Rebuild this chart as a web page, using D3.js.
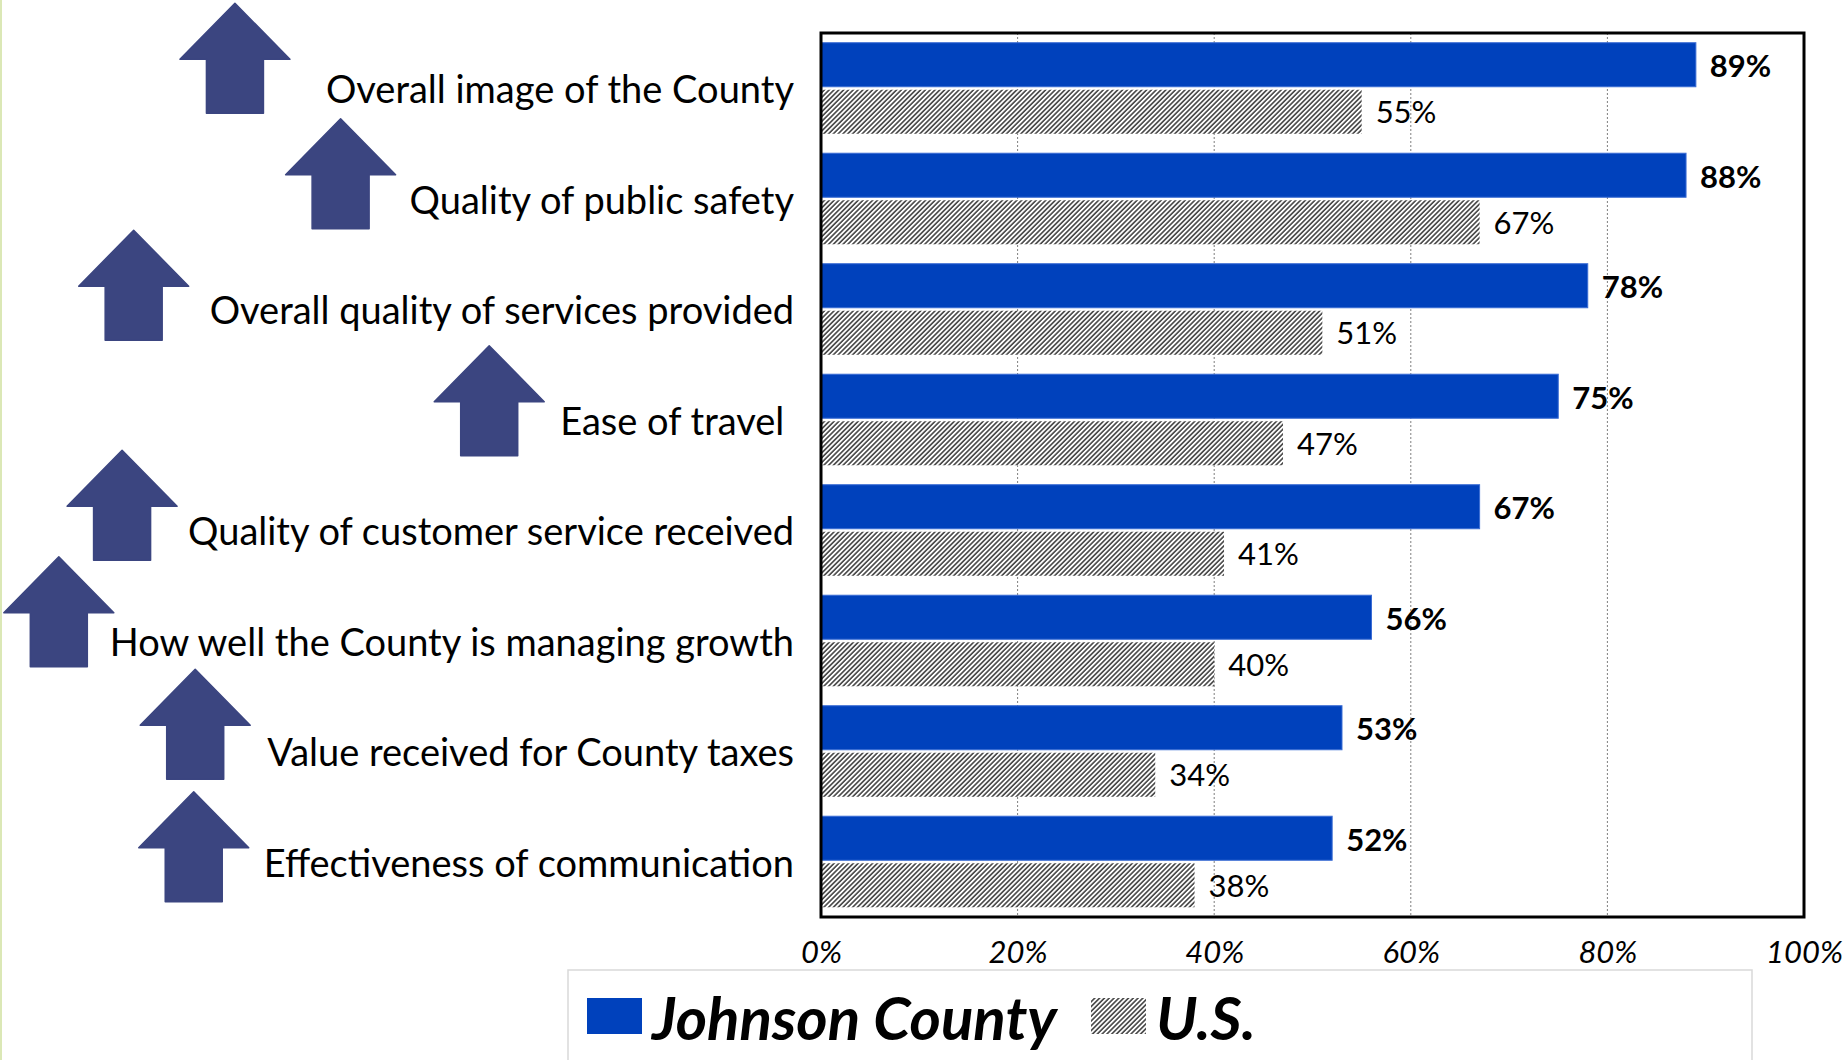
<!DOCTYPE html>
<html>
<head>
<meta charset="utf-8">
<script src="https://cdn.jsdelivr.net/npm/d3@7"></script>
<style>
  body { margin: 0; background: #fff; }
  svg { display: block; }
</style>
</head>
<body>
<svg id="chart" width="1844" height="1060"></svg>
<script>
// Satisfaction ratings, top to bottom
const categories = [
  "Overall image of the County",
  "Quality of public safety",
  "Overall quality of services provided",
  "Ease of travel ",
  "Quality of customer service received",
  "How well the County is managing growth",
  "Value received for County taxes",
  "Effectiveness of communication"
];
const countyValues = [89, 88, 78, 75, 67, 56, 53, 52];
const usValues = [55, 67, 51, 47, 41, 40, 34, 38];
const seriesNames = ["Johnson County", "U.S."];
const tickValues = [0, 20, 40, 60, 80, 100];
const tickLabels = ["0%", "20%", "40%", "60%", "80%", "100%"];

// Layout
const W = 1844, H = 1060;
const plot = { left: 821, right: 1804, top: 33, bottom: 917 };
const FONT = "Lato, 'Open Sans', sans-serif";
const BLUE = "#0041BC";
const ARROW = "#3B4580";
// Up-arrow placement: gap between arrow and the start of its label, and arrow top relative to row centre
const arrowGap = [36, 14, 21, 16, 11, -4, 17, 15];
const arrowRise = [-85, -80, -79, -74, -80, -84, -82, -70];
const arrowSize = { w: 110, h: 110, shaft: 57, head: 56 };

const svg = d3.select("#chart");
svg.append("rect").attr("width", W).attr("height", H).attr("fill", "#fff");
svg.append("line").attr("x1", 1).attr("x2", 1).attr("y1", 0).attr("y2", H)
  .attr("stroke", "#dbe8b6").attr("stroke-width", 2);

const defs = svg.append("defs");
const hatch = defs.append("pattern")
  .attr("id", "hatch")
  .attr("patternUnits", "userSpaceOnUse")
  .attr("width", 3.4).attr("height", 3.4)
  .attr("patternTransform", "rotate(45)");
hatch.append("rect").attr("width", 3.4).attr("height", 3.4).attr("fill", "#fff");
hatch.append("line").attr("x1", 0.9).attr("x2", 0.9).attr("y1", 0).attr("y2", 3.4)
  .attr("stroke", "#444").attr("stroke-width", 1.6);

const rows = categories.map((c, i) => ({ cat: c, values: [countyValues[i], usValues[i]] }));

const x = d3.scaleLinear().domain([0, 100]).range([plot.left, plot.right]);
const y = d3.scaleBand().domain(categories).range([plot.top, plot.bottom])
  .paddingInner(0.176).paddingOuter(0.088);
const ySub = d3.scaleBand().domain(seriesNames).range([0, y.bandwidth()]);

// Gridlines
svg.append("g").selectAll("line")
  .data(tickValues.filter(t => t > 0 && t < 100))
  .join("line")
  .attr("x1", d => x(d)).attr("x2", d => x(d))
  .attr("y1", plot.top).attr("y2", plot.bottom)
  .attr("stroke", "#7f7f7f").attr("stroke-width", 1)
  .attr("stroke-dasharray", "2,2");

// Bars
const groups = svg.append("g").selectAll("g")
  .data(rows).join("g")
  .attr("transform", d => `translate(0,${y(d.cat)})`);

groups.selectAll("rect")
  .data(d => d.values.map((v, k) => ({ v, s: seriesNames[k], k })))
  .join("rect")
  .attr("x", x(0))
  .attr("y", d => ySub(d.s) + (d.k === 0 ? 0 : 1.5))
  .attr("width", d => x(d.v) - x(0))
  .attr("height", d => ySub.bandwidth() - 1.5)
  .attr("fill", d => d.k === 0 ? BLUE : "url(#hatch)")
  .attr("stroke", d => d.k === 0 ? "#3a6cd4" : "none")
  .attr("stroke-width", 1);

groups.selectAll("text")
  .data(d => d.values.map((v, k) => ({ v, s: seriesNames[k], k })))
  .join("text")
  .attr("x", d => x(d.v) + 14)
  .attr("y", d => ySub(d.s) + ySub.bandwidth() / 2)
  .attr("dominant-baseline", "central")
  .attr("font-family", FONT)
  .attr("font-size", 31)
  .attr("font-weight", d => d.k === 0 ? 700 : 400)
  .attr("fill", "#000")
  .text(d => d.v + "%");

// Plot frame
svg.append("rect")
  .attr("x", plot.left).attr("y", plot.top)
  .attr("width", plot.right - plot.left).attr("height", plot.bottom - plot.top)
  .attr("fill", "none").attr("stroke", "#000").attr("stroke-width", 3);

// X axis labels
const xAxis = svg.append("g")
  .attr("transform", `translate(0,${plot.bottom})`)
  .call(d3.axisBottom(x).tickValues(tickValues).tickFormat((d, i) => tickLabels[i]).tickSize(0).tickPadding(24));
xAxis.select(".domain").remove();
xAxis.selectAll("text")
  .attr("font-family", FONT).attr("font-size", 31).attr("font-style", "italic")
  .attr("fill", "#000");

// Category labels with up arrows
const labelRight = 794;
const labels = svg.append("g").selectAll("text")
  .data(rows).join("text")
  .attr("x", labelRight)
  .attr("y", d => y(d.cat) + y.bandwidth() / 2)
  .attr("text-anchor", "end")
  .attr("dominant-baseline", "central")
  .attr("font-family", FONT)
  .attr("font-size", 38)
  .attr("fill", "#000")
  .style("white-space", "pre")
  .text(d => d.cat);

const arrowPath = (cx, top) => {
  const a = arrowSize;
  const hw = a.w / 2, sw = a.shaft / 2;
  return `M${cx},${top} L${cx + hw},${top + a.head} L${cx + sw},${top + a.head}
          L${cx + sw},${top + a.h} L${cx - sw},${top + a.h} L${cx - sw},${top + a.head}
          L${cx - hw},${top + a.head} Z`;
};

const arrows = svg.append("g");
labels.each(function (d, i) {
  const box = this.getBBox();
  const cx = Math.max(box.x - arrowGap[i] - arrowSize.w / 2, arrowSize.w / 2 + 2);
  const top = y(d.cat) + y.bandwidth() / 2 + arrowRise[i];
  arrows.append("path")
    .attr("d", arrowPath(cx, top))
    .attr("fill", ARROW)
    .attr("stroke", ARROW).attr("stroke-width", 1.5).attr("stroke-linejoin", "round");
});

// Legend
const legend = svg.append("g");
legend.append("rect")
  .attr("x", 568).attr("y", 970).attr("width", 1184).attr("height", 110)
  .attr("fill", "#fff").attr("stroke", "#d9d9d9").attr("stroke-width", 1.5);
const legendItems = [
  { name: seriesNames[0], fill: BLUE, x: 587 },
  { name: seriesNames[1], fill: "url(#hatch)", x: 1091 }
];
legend.selectAll("rect.sw").data(legendItems).join("rect")
  .attr("class", "sw")
  .attr("x", d => d.x).attr("y", 998).attr("width", 55).attr("height", 36)
  .attr("fill", d => d.fill);
legend.selectAll("text").data(legendItems).join("text")
  .attr("x", d => d.x + 65).attr("y", 1017)
  .attr("dominant-baseline", "central")
  .attr("font-family", FONT).attr("font-size", 60)
  .attr("font-weight", 700).attr("font-style", "italic")
  .attr("fill", "#000")
  .text(d => d.name);
</script>
</body>
</html>
